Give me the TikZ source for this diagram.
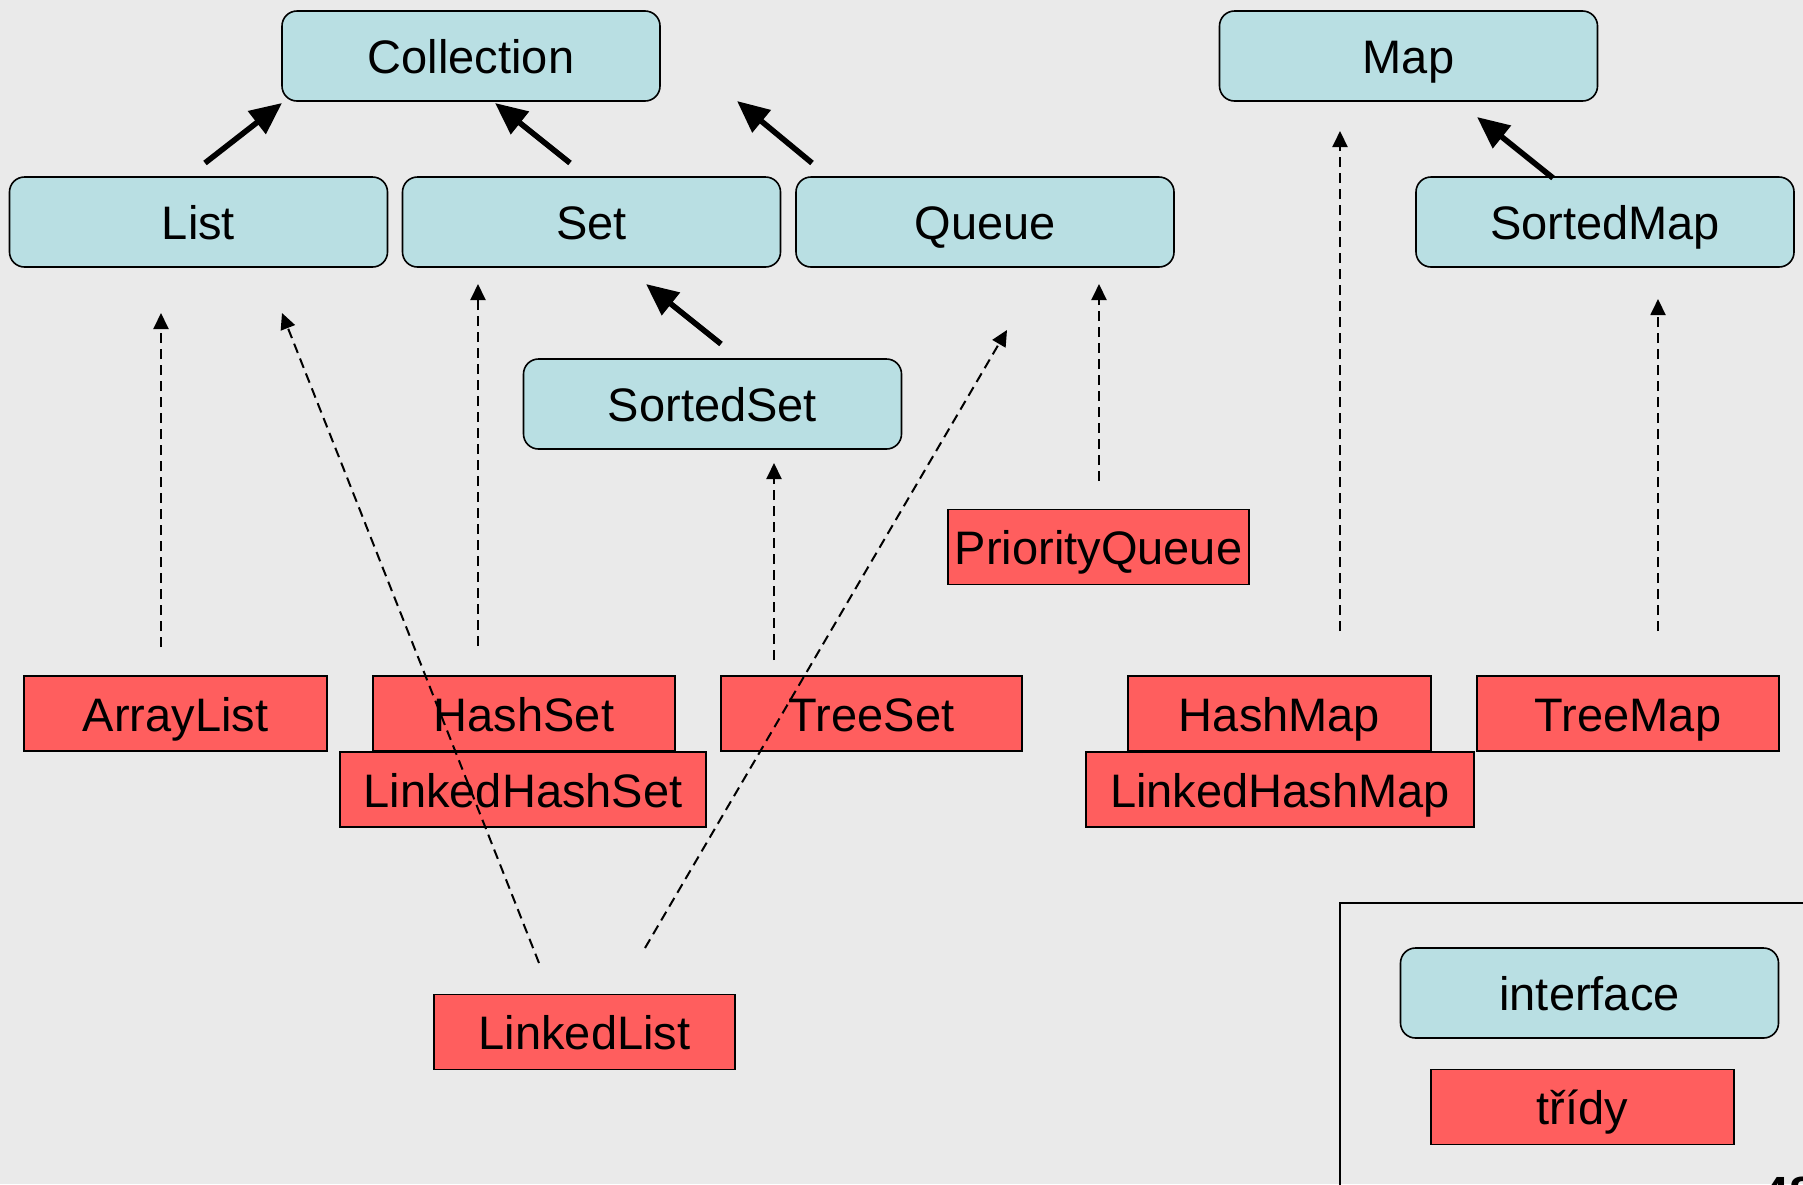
\documentclass[tikz,border=0pt]{standalone}
\usepackage{fontspec}
\setmainfont{Liberation Sans}
\usetikzlibrary{arrows.meta}
\definecolor{bgc}{RGB}{234,234,234}
\definecolor{ifc}{RGB}{185,223,227}
\definecolor{clc}{RGB}{255,94,94}
\begin{document}
\begin{tikzpicture}[x=0.5pt,y=-0.5pt,
  boxtext/.style={font=\fontsize{23.5}{28}\selectfont,text height=22.5pt,text depth=5pt,inner sep=0pt},
  iface/.style={boxtext,draw=black,line width=0.8pt,fill=ifc,rounded corners=7.5pt,minimum width=189pt,minimum height=45pt},
  cls/.style={boxtext,draw=black,line width=0.8pt,fill=clc,minimum height=37.5pt},
  ext/.style={line width=2.8pt,-{Triangle[length=16pt,width=14pt]}},
  impl/.style={line width=1pt,dash pattern=on 5pt off 3pt,-{Triangle[length=8pt,width=7.5pt]}}]
\useasboundingbox (0,0) rectangle (1803,1184);
\clip (0,0) rectangle (1803,1184);
\fill[bgc] (0,0) rectangle (1803,1184);

% legend frame
\draw[line width=0.8pt] (1340,1190) -- (1340,903) -- (1810,903);

% interfaces
\node[iface] (Collection) at (471,56) {Collection};
\node[iface] (Map) at (1408.5,56) {Map};
\node[iface] (List) at (198.5,222) {List};
\node[iface] (Set) at (591.5,222) {Set};
\node[iface] (Queue) at (985,222) {Queue};
\node[iface] (SortedMap) at (1605,222) {SortedMap};
\node[iface] (SortedSet) at (712.5,404) {SortedSet};

% classes
\node[cls,minimum width=150.5pt] (PriorityQueue) at (1098.5,547) {PriorityQueue};
\node[cls,minimum width=151.5pt] (ArrayList) at (175.5,713.5) {ArrayList};
\node[cls,minimum width=151pt] (HashSet) at (524,713.5) {HashSet};
\node[cls,minimum width=150.5pt] (TreeSet) at (871.5,713.5) {TreeSet};
\node[cls,minimum width=151.5pt] (HashMap) at (1279.5,713.5) {HashMap};
\node[cls,minimum width=151pt] (TreeMap) at (1628,713.5) {TreeMap};
\node[cls,minimum width=183pt] (LinkedHashSet) at (523,789.5) {LinkedHashSet};
\node[cls,minimum width=194pt] (LinkedHashMap) at (1280,789.5) {LinkedHashMap};
\node[cls,minimum width=150.5pt] (LinkedList) at (584.5,1032) {LinkedList};

% legend
\node[iface] (legIface) at (1589.5,993) {interface};
\node[cls,minimum width=151.5pt] (legCls) at (1582.5,1107) {třídy};
\node[anchor=north west,inner sep=0pt,font=\fontsize{24}{28}\selectfont\bfseries] (pagenum) at (1762,1177) {48};

% coordinates for connector ends
\coordinate (eListT) at (205,163);   \coordinate (eListH) at (282,103);
\coordinate (eSetT) at (570,163);    \coordinate (eSetH) at (495,103);
\coordinate (eQueueT) at (812,163);  \coordinate (eQueueH) at (737,101);
\coordinate (eSSetT) at (721,344);   \coordinate (eSSetH) at (646,284);
\coordinate (eSMapT) at (1553,178);  \coordinate (eSMapH) at (1477,117);

\coordinate (iALT) at (161,647);     \coordinate (iALH) at (161,313);
\coordinate (iLLT) at (539,963);     \coordinate (iLLH) at (282,313);
\coordinate (iHST) at (478,646);     \coordinate (iHSH) at (478,284);
\coordinate (iLQT) at (645,948);     \coordinate (iLQH) at (1007,330);
\coordinate (iTST) at (774,660);     \coordinate (iTSH) at (774,463);
\coordinate (iPQT) at (1099,481);    \coordinate (iPQH) at (1099,284);
\coordinate (iHMT) at (1340,631);    \coordinate (iHMH) at (1340,131);
\coordinate (iTMT) at (1658,631);    \coordinate (iTMH) at (1658,299);

% extends arrows
\draw[ext] (eListT) -- (eListH);
\draw[ext] (eSetT) -- (eSetH);
\draw[ext] (eQueueT) -- (eQueueH);
\draw[ext] (eSSetT) -- (eSSetH);
\draw[ext] (eSMapT) -- (eSMapH);

% implements arrows
\draw[impl] (iALT) -- (iALH);
\draw[impl] (iLLT) -- (iLLH);
\draw[impl] (iHST) -- (iHSH);
\draw[impl] (iLQT) -- (iLQH);
\draw[impl] (iTST) -- (iTSH);
\draw[impl] (iPQT) -- (iPQH);
\draw[impl] (iHMT) -- (iHMH);
\draw[impl] (iTMT) -- (iTMH);
\end{tikzpicture}
\end{document}
